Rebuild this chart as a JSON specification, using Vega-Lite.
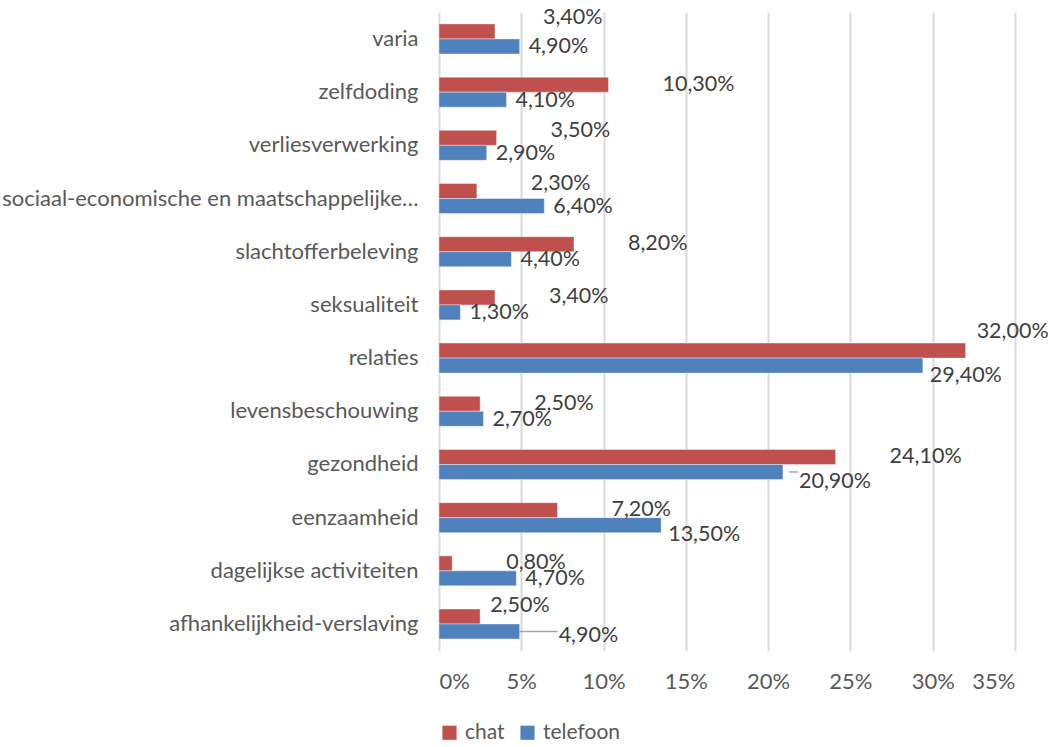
{
  "$schema": "https://vega.github.io/schema/vega-lite/v6.json",
  "width": 576,
  "height": 639,
  "autosize": {"type": "none"},
  "padding": {"left": 439, "top": 12, "right": 37, "bottom": 96},
  "background": "white",
  "config": {
    "locale": {"number": {"decimal": ",", "thousands": ".", "grouping": [3], "currency": ["€", ""]}},
    "font": "Lato",
    "view": {"stroke": null},
    "text": {"fontSize": 21.5, "color": "#404040", "align": "left", "baseline": "middle"}
  },
  "data": {
    "values": [
      {"categorie": "varia", "reeks": "chat", "waarde": 0.034},
      {"categorie": "varia", "reeks": "telefoon", "waarde": 0.049},
      {"categorie": "zelfdoding", "reeks": "chat", "waarde": 0.103},
      {"categorie": "zelfdoding", "reeks": "telefoon", "waarde": 0.041},
      {"categorie": "verliesverwerking", "reeks": "chat", "waarde": 0.035},
      {"categorie": "verliesverwerking", "reeks": "telefoon", "waarde": 0.029},
      {"categorie": "sociaal-economische en maatschappelijke…", "reeks": "chat", "waarde": 0.023},
      {"categorie": "sociaal-economische en maatschappelijke…", "reeks": "telefoon", "waarde": 0.064},
      {"categorie": "slachtofferbeleving", "reeks": "chat", "waarde": 0.082},
      {"categorie": "slachtofferbeleving", "reeks": "telefoon", "waarde": 0.044},
      {"categorie": "seksualiteit", "reeks": "chat", "waarde": 0.034},
      {"categorie": "seksualiteit", "reeks": "telefoon", "waarde": 0.013},
      {"categorie": "relaties", "reeks": "chat", "waarde": 0.32},
      {"categorie": "relaties", "reeks": "telefoon", "waarde": 0.294},
      {"categorie": "levensbeschouwing", "reeks": "chat", "waarde": 0.025},
      {"categorie": "levensbeschouwing", "reeks": "telefoon", "waarde": 0.027},
      {"categorie": "gezondheid", "reeks": "chat", "waarde": 0.241},
      {"categorie": "gezondheid", "reeks": "telefoon", "waarde": 0.209},
      {"categorie": "eenzaamheid", "reeks": "chat", "waarde": 0.072},
      {"categorie": "eenzaamheid", "reeks": "telefoon", "waarde": 0.135},
      {"categorie": "dagelijkse activiteiten", "reeks": "chat", "waarde": 0.008},
      {"categorie": "dagelijkse activiteiten", "reeks": "telefoon", "waarde": 0.047},
      {"categorie": "afhankelijkheid-verslaving", "reeks": "chat", "waarde": 0.025},
      {"categorie": "afhankelijkheid-verslaving", "reeks": "telefoon", "waarde": 0.049}
    ]
  },
  "encoding": {
    "y": {
      "field": "categorie",
      "type": "nominal",
      "sort": ["varia", "zelfdoding", "verliesverwerking", "sociaal-economische en maatschappelijke…", "slachtofferbeleving", "seksualiteit", "relaties", "levensbeschouwing", "gezondheid", "eenzaamheid", "dagelijkse activiteiten", "afhankelijkheid-verslaving"],
      "scale": {"paddingInner": 0.436, "paddingOuter": 0.225},
      "axis": {"title": null, "domain": false, "ticks": false, "labelPadding": 21, "labelFontSize": 22, "labelColor": "#595959", "labelLimit": 440}
    },
    "yOffset": {"field": "reeks", "type": "nominal", "sort": ["chat", "telefoon"]},
    "x": {
      "field": "waarde",
      "type": "quantitative",
      "scale": {"domain": [0, 0.35], "nice": false},
      "axis": {"title": null, "format": ".0%", "values": [0, 0.05, 0.1, 0.15, 0.2, 0.25, 0.3, 0.35], "domain": false, "ticks": false, "grid": true, "gridColor": "#D9D9D9", "gridWidth": 2, "labelPadding": 20, "labelFontSize": 22, "labelColor": "#595959"}
    }
  },
  "layer": [
    {
      "mark": {"type": "bar", "stroke": "white", "strokeOpacity": 0.4, "strokeWidth": 1},
      "encoding": {
        "color": {
          "field": "reeks",
          "type": "nominal",
          "scale": {"domain": ["chat", "telefoon"], "range": ["#C0504D", "#4F81BD"]},
          "legend": {"title": null, "orient": "bottom", "direction": "horizontal", "symbolType": "square", "symbolSize": 200, "symbolStrokeWidth": 0, "labelFontSize": 21, "labelColor": "#595959", "offset": 30, "columnPadding": 12, "labelOffset": 5}
        }
      }
    },
    {
      "transform": [{"filter": "datum.reeks === 'telefoon' && (datum.categorie === 'afhankelijkheid-verslaving')"}],
      "mark": {"type": "rule", "color": "#A6A6A6", "strokeWidth": 1.5, "x2Offset": 38, "yOffset": 2},
      "encoding": {"x2": {"field": "waarde"}}
    },
    {
      "transform": [{"filter": "datum.reeks === 'telefoon' && (datum.categorie === 'gezondheid')"}],
      "mark": {"type": "rule", "color": "#A6A6A6", "strokeWidth": 1.5, "xOffset": 6, "x2Offset": 15, "yOffset": 10},
      "encoding": {"x2": {"field": "waarde"}}
    },
    {
      "transform": [{"filter": "datum.reeks === 'chat' && indexof(['zelfdoding','slachtofferbeleving','seksualiteit','levensbeschouwing','gezondheid','eenzaamheid','dagelijkse activiteiten'], datum.categorie) >= 0"}],
      "mark": {"type": "text", "dx": 54, "dy": 0},
      "encoding": {"text": {"field": "waarde", "type": "quantitative", "format": ".2%"}}
    },
    {
      "transform": [{"filter": "datum.reeks === 'chat' && indexof(['verliesverwerking','sociaal-economische en maatschappelijke…'], datum.categorie) >= 0"}],
      "mark": {"type": "text", "dx": 54, "dy": -7},
      "encoding": {"text": {"field": "waarde", "type": "quantitative", "format": ".2%"}}
    },
    {
      "transform": [{"filter": "datum.reeks === 'chat' && datum.categorie === 'varia'"}],
      "mark": {"type": "text", "dx": 48, "dy": -13},
      "encoding": {"text": {"field": "waarde", "type": "quantitative", "format": ".2%"}}
    },
    {
      "transform": [{"filter": "datum.reeks === 'chat' && datum.categorie === 'relaties'"}],
      "mark": {"type": "text", "dx": 11, "dy": -19},
      "encoding": {"text": {"field": "waarde", "type": "quantitative", "format": ".2%"}}
    },
    {
      "transform": [{"filter": "datum.reeks === 'chat' && datum.categorie === 'afhankelijkheid-verslaving'"}],
      "mark": {"type": "text", "dx": 10, "dy": -11},
      "encoding": {"text": {"field": "waarde", "type": "quantitative", "format": ".2%"}}
    },
    {
      "transform": [{"filter": "datum.reeks === 'telefoon' && indexof(['relaties','gezondheid','eenzaamheid','afhankelijkheid-verslaving'], datum.categorie) < 0"}],
      "mark": {"type": "text", "dx": 9, "dy": 1},
      "encoding": {"text": {"field": "waarde", "type": "quantitative", "format": ".2%"}}
    },
    {
      "transform": [{"filter": "datum.reeks === 'telefoon' && indexof(['relaties','eenzaamheid'], datum.categorie) >= 0"}],
      "mark": {"type": "text", "dx": 7, "dy": 10},
      "encoding": {"text": {"field": "waarde", "type": "quantitative", "format": ".2%"}}
    },
    {
      "transform": [{"filter": "datum.reeks === 'telefoon' && datum.categorie === 'gezondheid'"}],
      "mark": {"type": "text", "dx": 16, "dy": 10},
      "encoding": {"text": {"field": "waarde", "type": "quantitative", "format": ".2%"}}
    },
    {
      "transform": [{"filter": "datum.reeks === 'telefoon' && datum.categorie === 'afhankelijkheid-verslaving'"}],
      "mark": {"type": "text", "dx": 39, "dy": 4},
      "encoding": {"text": {"field": "waarde", "type": "quantitative", "format": ".2%"}}
    }
  ]
}
